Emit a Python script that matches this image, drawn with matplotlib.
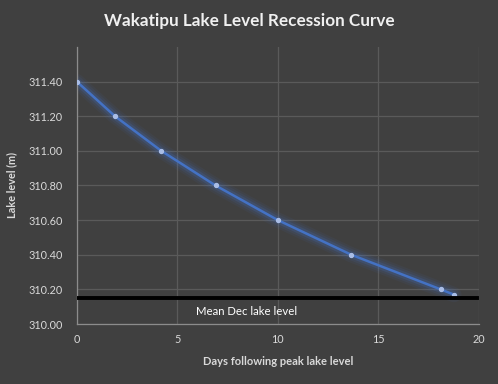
import matplotlib.pyplot as plt

# recession curve
days = [0, 1.9, 4.2, 6.9, 10.0, 13.65, 18.1, 18.75]
level = [311.40, 311.20, 311.00, 310.80, 310.60, 310.40, 310.20, 310.17]

# mean December lake level
mean_x = [0, 19.9]
mean_level = [310.15, 310.15]
mean_label = "Mean Dec lake level"

yticks = [310.0, 310.2, 310.4, 310.6, 310.8, 311.0, 311.2, 311.4]
xticks = [0, 5, 10, 15, 20]

bg = "#404040"
txt = "#d9d9d9"
grid = "#5a5a5a"

plt.rcParams['font.family'] = ['Lato', 'DejaVu Sans']

fig = plt.figure(figsize=(4.98, 3.84), dpi=100, facecolor=bg)
ax = fig.add_axes([0.154, 0.156, 0.808, 0.722], facecolor=bg)

ax.set_xlim(0, 20)
ax.set_ylim(310.0, 311.6)
ax.set_xticks(xticks)
ax.set_yticks(yticks)
ax.set_yticklabels(["%.2f" % v for v in yticks])
ax.tick_params(colors=txt, labelsize=7.8, length=0, pad=10)
ax.tick_params(axis='x', pad=7)
ax.grid(True, color=grid, linewidth=0.9)
ax.set_axisbelow(True)
for s in ['top', 'right']:
    ax.spines[s].set_visible(False)
for s in ['left', 'bottom']:
    ax.spines[s].set_color("#8c8c8c")
    ax.spines[s].set_linewidth(0.9)

# soft glow under the curve
for lw, a in [(11, 0.07), (8, 0.1), (5, 0.2)]:
    ax.plot(days, level, color="#4472c4", linewidth=lw, alpha=a,
            solid_capstyle='round', zorder=2)
ax.plot(days, level, color="#4472c4", linewidth=1.8, zorder=3)
ax.plot(days, level, linestyle='none', marker='o', markersize=2.8,
        markerfacecolor="#a9bde6", markeredgecolor="#a9bde6", zorder=4)

ax.plot(mean_x, mean_level, color="black", linewidth=2.8, zorder=5)
ax.text(5.95, 310.07, mean_label, color="white", fontsize=8.2, va='center', ha='left')

fig.text(0.5, 0.945, "Wakatipu Lake Level Recession Curve", color="#f0f0f0",
         fontsize=12.3, fontweight='bold', ha='center', va='center')
ax.set_xlabel("Days following peak lake level", color=txt, fontsize=8,
              fontweight='bold', labelpad=8)
ax.set_ylabel("Lake level (m)", color=txt, fontsize=7.8, fontweight='bold',
              labelpad=8)

fig.savefig("out.png", dpi=100, facecolor=bg)
